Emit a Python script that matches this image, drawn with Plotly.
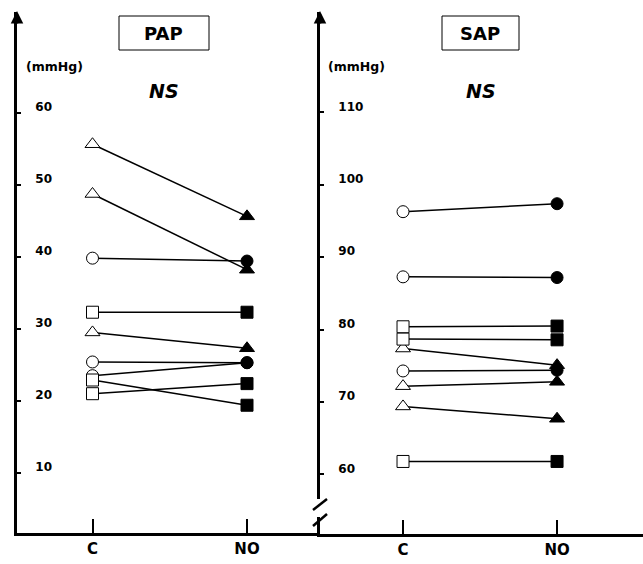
import plotly.graph_objects as go

W, H = 643, 564

groups = ["C", "NO"]

# PAP (mmHg): [C, NO]
pap_tri_a = [55.6, 45.6]
pap_tri_b = [48.7, 38.2]
pap_circ_a = [39.8, 39.4]
pap_sq_a = [32.3, 32.3]
pap_tri_c = [29.5, 27.3]
pap_circ_b = [25.4, 25.3]
pap_circ_c = [23.5, 25.3]
pap_sq_b = [22.9, 19.4]
pap_sq_c = [21.0, 22.4]
pap_ticks = [10, 20, 30, 40, 50, 60]

# SAP (mmHg): [C, NO]
sap_circ_a = [96.3, 97.4]
sap_circ_b = [87.3, 87.2]
sap_sq_a = [80.4, 80.5]
sap_sq_b = [78.7, 78.6]
sap_tri_a = [77.4, 75.1]
sap_circ_c = [74.3, 74.4]
sap_tri_b = [72.2, 72.8]
sap_tri_c = [69.4, 67.7]
sap_sq_c = [61.8, 61.8]
sap_ticks = [60, 70, 80, 90, 100, 110]

pap_series = [
    ("triangle-up", pap_tri_a), ("triangle-up", pap_tri_b), ("circle", pap_circ_a),
    ("triangle-up", pap_tri_c), ("circle", pap_circ_b), ("circle", pap_circ_c),
    ("square", pap_sq_a), ("square", pap_sq_b), ("square", pap_sq_c),
]
sap_series = [
    ("circle", sap_circ_a), ("circle", sap_circ_b), ("triangle-up", sap_tri_a),
    ("circle", sap_circ_c), ("triangle-up", sap_tri_b), ("triangle-up", sap_tri_c),
    ("square", sap_sq_a), ("square", sap_sq_b), ("square", sap_sq_c),
]

FONT = "DejaVu Sans"


def fx(p):
    return p / W


def fy(p):
    return 1 - p / H


fig = go.Figure()
for xa, ya, series in (("x", "y", pap_series), ("x2", "y2", sap_series)):
    for sym, vals in series:
        fig.add_trace(go.Scatter(
            x=groups, y=vals, xaxis=xa, yaxis=ya, mode="lines+markers",
            line=dict(color="black", width=1.5),
            marker=dict(symbol=sym, size=13 if sym == "triangle-up" else 12,
                        color=["white", "black"],
                        line=dict(color="black", width=1)),
            showlegend=False, hoverinfo="skip",
        ))

xcommon = dict(type="category", showgrid=False, zeroline=False, showline=True,
               linecolor="black", linewidth=2.5, ticks="inside", ticklen=14,
               tickwidth=1.5, tickcolor="black",
               tickfont=dict(family=FONT, size=15, color="black", weight="bold"),
               fixedrange=True)
ycommon = dict(showgrid=False, zeroline=False, showline=True, linecolor="black",
               linewidth=2.5, ticks="inside", ticklen=4, tickwidth=1.5,
               tickcolor="black", ticklabelposition="inside",
               ticklabelstandoff=14, ticklabelshift=-6,
               tickfont=dict(family=FONT, size=12, color="black", weight="bold"),
               fixedrange=True)

fig.update_layout(
    width=W, height=H, margin=dict(l=0, r=0, t=0, b=0),
    paper_bgcolor="white", plot_bgcolor="white",
    xaxis=dict(xcommon, domain=[fx(17), fx(320)], range=[-0.4887, 1.4725], anchor="y"),
    xaxis2=dict(xcommon, domain=[fx(320), 1], range=[-0.539, 1.558], anchor="y2"),
    yaxis=dict(ycommon, domain=[fy(533), fy(12)], range=[1.68, 73.94],
               tickvals=pap_ticks, anchor="x"),
    yaxis2=dict(ycommon, domain=[fy(534), fy(12)], range=[51.78, 123.88],
                tickvals=sap_ticks, anchor="x2"),
)

annotations = []
# axis arrows
for xp in (17, 320):
    annotations.append(dict(x=fx(xp), y=fy(11), xref="paper", yref="paper",
                            showarrow=True, ax=0, ay=14, arrowhead=2, arrowsize=1,
                            arrowwidth=2.5, arrowcolor="black", text=""))
# titles
for txt, xc in (("PAP", 163), ("SAP", 480)):
    annotations.append(dict(x=fx(xc), y=fy(33), xref="paper", yref="paper",
                            xanchor="center", yanchor="middle",
                            text=txt, showarrow=False,
                            font=dict(family=FONT, size=18, color="black", weight="bold")))
for xl in (24, 326):
    annotations.append(dict(x=fx(xl), y=fy(66), xref="paper", yref="paper",
                            xanchor="left", yanchor="middle", text="(mmHg)", showarrow=False,
                            font=dict(family=FONT, size=12.5, color="black", weight="bold")))
for xc in (164, 481):
    annotations.append(dict(x=fx(xc), y=fy(91), xref="paper", yref="paper",
                            xanchor="center", yanchor="middle",
                            text="<i>NS</i>", showarrow=False,
                            font=dict(family=FONT, size=19, color="black", weight="bold")))
fig.update_layout(annotations=annotations)

shapes = [
    dict(type="rect", xref="paper", yref="paper", x0=fx(119), x1=fx(209),
         y0=fy(50), y1=fy(16), line=dict(color="black", width=1)),
    dict(type="rect", xref="paper", yref="paper", x0=fx(442), x1=fx(519),
         y0=fy(50), y1=fy(16), line=dict(color="black", width=1)),
    # axis break on SAP axis
    dict(type="rect", xref="paper", yref="paper", x0=fx(315), x1=fx(326),
         y0=fy(517), y1=fy(499), line=dict(width=0), fillcolor="white", layer="above"),
    dict(type="line", xref="paper", yref="paper", x0=fx(313), x1=fx(327),
         y0=fy(510), y1=fy(499), line=dict(color="black", width=2.5), layer="above"),
    dict(type="line", xref="paper", yref="paper", x0=fx(313), x1=fx(327),
         y0=fy(526), y1=fy(514), line=dict(color="black", width=2.5), layer="above"),
]
fig.update_layout(shapes=shapes)

fig.write_html("out.html", config={"displayModeBar": False},
               post_script="document.body.style.margin='0px';")
